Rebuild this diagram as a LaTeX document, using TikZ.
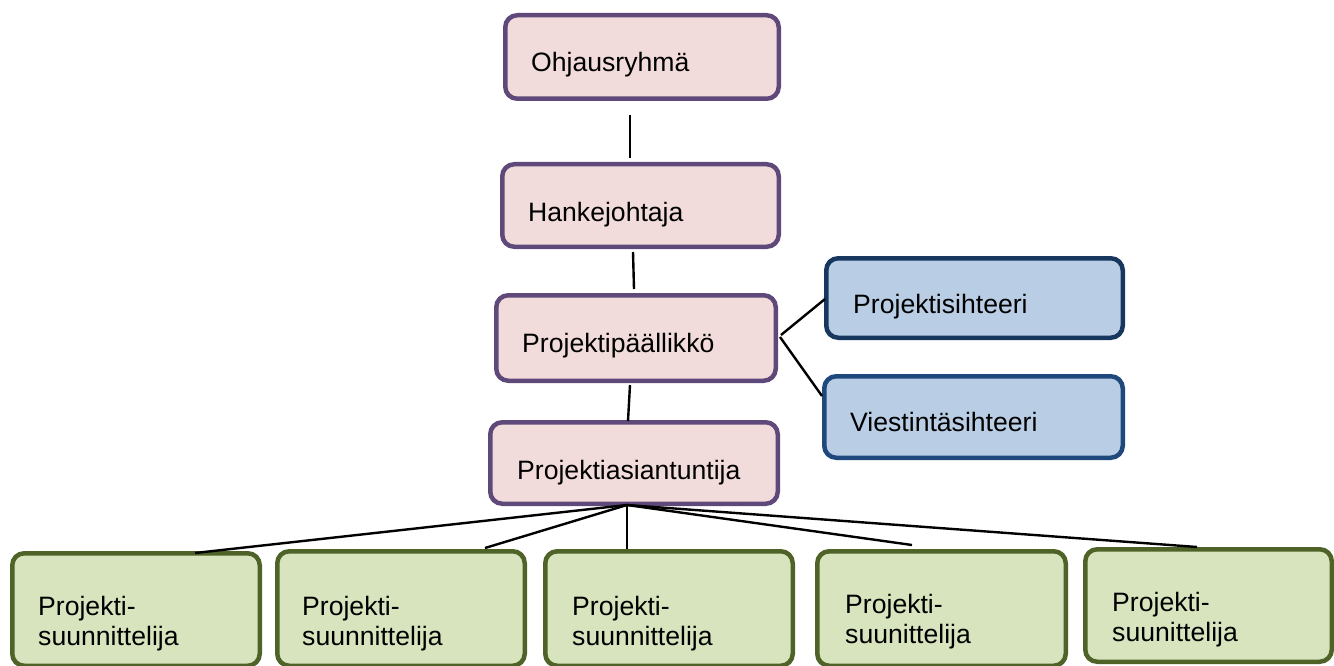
\documentclass[tikz,border=0pt]{standalone}
\usepackage{fontspec}
\setmainfont{Liberation Sans}
\usetikzlibrary{calc}
\definecolor{pinkf}{HTML}{F2DCDB}
\definecolor{purp}{HTML}{5F497A}
\definecolor{bluef}{HTML}{B9CDE5}
\definecolor{navya}{HTML}{17375E}
\definecolor{navyb}{HTML}{1F497D}
\definecolor{greenf}{HTML}{D7E4BD}
\definecolor{greenb}{HTML}{4F6228}
\tikzset{
  box/.style={rounded corners=12pt, line width=4.5pt, inner sep=0pt, minimum width=#1},
  pbox/.style={box=#1, draw=purp, fill=pinkf},
  bbox/.style={box=#1, fill=bluef},
  gbox/.style={box=#1, draw=greenb, fill=greenf},
  txt/.style={font=\fontsize{26.6}{30}\selectfont, anchor=base west, inner sep=0pt},
  ttxt/.style={txt, text width=240pt, align=left},
  conn/.style={line width=2.4pt, black}
}
\begin{document}
\begin{tikzpicture}[x=1pt,y=-1pt]
\useasboundingbox (0,0) rectangle (1334,666);
% boxes
\node[pbox=273.5pt, minimum height=83.5pt] (ohj) at (642,57) {};
\node[pbox=276.5pt, minimum height=82.5pt] (hank) at (640.5,205.5) {};
\node[pbox=279.5pt, minimum height=85.5pt] (pp) at (636,338) {};
\node[pbox=287.5pt, minimum height=81.5pt] (pa) at (634,463) {};
\node[bbox=296.5pt, minimum height=79.5pt, draw=navya] (ps) at (974.5,298) {};
\node[bbox=298.5pt, minimum height=81.5pt, draw=navyb] (vs) at (973.5,417) {};
\node[gbox=247.5pt, minimum height=112.5pt] (g1) at (136,609.5) {};
\node[gbox=247.5pt, minimum height=114.5pt] (g2) at (401,608.5) {};
\node[gbox=247.5pt, minimum height=114.5pt] (g3) at (669,608.5) {};
\node[gbox=248.5pt, minimum height=114.5pt] (g4) at (941.5,608.5) {};
\node[gbox=246.5pt, minimum height=112.5pt] (g5) at (1208.5,605.5) {};
% texts
\node[txt] (tohj) at (531,72) {Ohjausryhmä};
\node[txt] (thank) at (528,221) {Hankejohtaja};
\node[txt] (tpp) at (522,352) {Projektipäällikkö};
\node[txt] (tpa) at (517,479) {Projektiasiantuntija};
\node[txt] (tps) at (853,313) {Projektisihteeri};
\node[txt] (tvs) at (850,431) {Viestintäsihteeri};
\node[ttxt] (tg1) at (38,615) {Projekti-\\suunnittelija};
\node[ttxt] (tg2) at (302,615) {Projekti-\\suunnittelija};
\node[ttxt] (tg3) at (572,615) {Projekti-\\suunnittelija};
\node[ttxt] (tg4) at (845,613) {Projekti-\\suunittelija};
\node[ttxt] (tg5) at (1112,611) {Projekti-\\suunittelija};
% connectors
\draw[conn] ([xshift=-12pt,yshift=-14pt]ohj.south) -- ([xshift=-10.5pt,yshift=4pt]hank.north);
\draw[conn] ([xshift=-7.5pt,yshift=-3pt]hank.south) -- ([xshift=-2pt,yshift=4pt]pp.north);
\draw[conn] ([xshift=-6pt,yshift=-2pt]pp.south) -- ([xshift=-6pt,yshift=-1pt]pa.north);
\draw[conn] ([xshift=3pt,yshift=3pt]pp.east) -- ([xshift=1pt,yshift=-1pt]ps.west);
\draw[conn] ([xshift=2pt,yshift=1pt]pp.east) -- ([xshift=0pt,yshift=21pt]vs.west);
\coordinate (hub) at ([xshift=-7pt,yshift=1pt]pa.south);
\draw[conn] (hub) -- ([xshift=59pt,yshift=-2pt]g1.north);
\draw[conn] (hub) -- ([xshift=84pt,yshift=1pt]g2.north);
\draw[conn] (hub) -- ([xshift=-42pt]g3.north);
\draw[conn] (hub) -- ([xshift=-29.5pt,yshift=4pt]g4.north);
\draw[conn] (hub) -- ([xshift=-11.5pt]g5.north);
\end{tikzpicture}
\end{document}
